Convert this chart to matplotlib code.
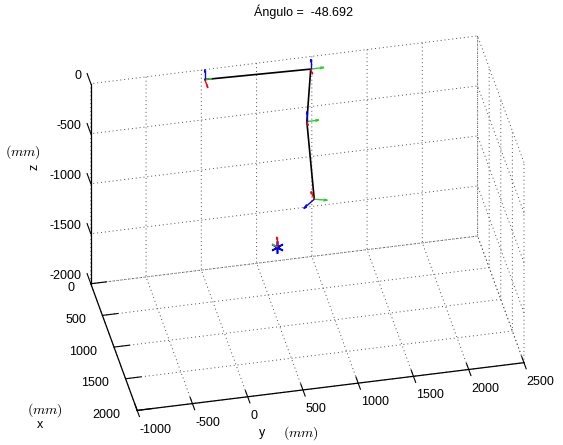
import matplotlib
matplotlib.use('Agg')
import matplotlib.pyplot as plt
import numpy as np

plt.rcParams['font.family'] = ['Liberation Sans', 'DejaVu Sans']
plt.rcParams['mathtext.fontset'] = 'cm'
plt.rcParams['axes.unicode_minus'] = False

# robot joint positions (mm)
joint_x = [150, 190, 190, 190]
joint_y = [0, 950, 915, 982]
joint_z = [0, 0, -520, -1305]

# target point (mm)
target = [190, 644, -1735]

# small coordinate frames at each joint: origin, x (red), y (green), z (blue)
frame_org = [(150, 0, 0), (190, 950, 0), (190, 915, -520), (190, 982, -1305), (190, 644, -1735)]
frame_red = [(130, 0, 0), (80, 0, 0), (60, 0, 0), (0, -30, 80), (0, 0, 100)]
frame_green = [(0, 60, 0), (0, 120, 0), (0, 110, 0), (40, 110, 0), (0, -40, 30)]
frame_blue = [(0, 0, 100), (0, 0, 100), (0, 0, 100), (120, -120, 0), (0, 0, 0)]

angulo = -48.692

x_ticks = [0, 500, 1000, 1500, 2000]
y_ticks = [-1000, -500, 0, 500, 1000, 1500, 2000, 2500]
z_ticks = [-2000, -1500, -1000, -500, 0]

W, H = 563, 445
fig = plt.figure(figsize=(W / 100, H / 100), dpi=100)
ax = fig.add_axes([0.1, 0.1, 0.8, 0.8], projection='3d', proj_type='ortho')

ax.plot(joint_x, joint_y, joint_z, color='black', lw=1.2)
org = np.array(frame_org)
for vec, col in [(frame_red, 'red'), (frame_green, 'limegreen'), (frame_blue, 'blue')]:
    v = np.array(vec)
    ax.quiver(org[:, 0], org[:, 1], org[:, 2], v[:, 0], v[:, 1], v[:, 2],
              color=col, lw=1, arrow_length_ratio=0.3)
ax.plot([target[0]], [target[1]], [target[2]], marker=(6, 2, 0), color='blue',
        ms=9, mew=1.2, ls='none')

ax.set_xlim(x_ticks[0], x_ticks[-1], view_margin=0)
ax.set_ylim(y_ticks[0], y_ticks[-1], view_margin=0)
ax.set_zlim(z_ticks[0], z_ticks[-1], view_margin=0)
ax.set_xticks(x_ticks)
ax.set_yticks(y_ticks)
ax.set_zticks(z_ticks)
ax.tick_params(labelsize=9)
ax.tick_params(axis='x', pad=0)
ax.tick_params(axis='y', pad=3)
ax.tick_params(axis='z', pad=-4)

# z axis on the back-left edge; z and y ticks point along x like MATLAB
ax.zaxis.set_ticks_position('lower')
ax.zaxis._get_tickdir = lambda position: 0
ax.yaxis._get_tickdir = lambda position: 0

plt.setp(ax.get_xticklabels(), ha='right', va='bottom')
plt.setp(ax.get_yticklabels(), ha='left', va='center')
plt.setp(ax.get_zticklabels(), ha='right', va='bottom')

ax.set_box_aspect((225, 399, 248))
ax.view_init(elev=35.5, azim=-12)

# (inward, outward) tick lengths per axis
for axis, t_in, t_out in ((ax.xaxis, 0, 0.5), (ax.yaxis, 0.6, 0.6), (ax.zaxis, 0, 1.0)):
    axis.set_pane_color((1, 1, 1, 0))
    axis.pane.set_edgecolor('none')
    axis._axinfo['grid'].update(color='0.3', linewidth=0.7, linestyle=(0, (1, 3)))
    axis._axinfo['tick'].update(inward_factor=t_in, outward_factor=t_out,
                                linewidth={True: 0.8, False: 0.5})
    axis.line.set_color('black')
    axis.line.set_linewidth(0.9)

# place the axes box where it sits in the reference picture
fig.canvas.draw()
corners = np.array([[0, -1000, -2000], [2000, -1000, -2000], [2000, 2500, -2000],
                    [0, -1000, 0], [0, 2500, 0], [2000, 2500, 0]], dtype=float)
goal = np.array([[89.3, 280], [136, 408], [526, 360],
                 [89, 78], [480, 41], [524, 172]])
goal[:, 1] = H - goal[:, 1]
M = ax.get_proj()
h = np.column_stack([corners, np.ones(len(corners))]) @ M.T
pix = ax.transData.transform(h[:, :2] / h[:, 3:4])
bb = ax.get_position().transformed(fig.transFigure)
u = (pix - [bb.x0, bb.y0]) / bb.width
um, gm = u.mean(0), goal.mean(0)
S = ((u - um) * (goal - gm)).sum() / ((u - um) ** 2).sum()
L, B = gm - S * um
ax.set_position([L / W, B / H, S / W, S / H])

fig.text(303 / W, 1 - 12 / H, 'Ángulo =  %.3f' % angulo, ha='center', va='center', fontsize=9)
fig.text(262 / W, 1 - 433 / H, 'y', ha='center', va='center', fontsize=9)
fig.text(301 / W, 1 - 433 / H, '$(mm)$', ha='center', va='center', fontsize=10)
fig.text(40 / W, 1 - 425 / H, 'x', ha='center', va='center', fontsize=9)
fig.text(45 / W, 1 - 410 / H, '$(mm)$', ha='center', va='center', fontsize=10)
fig.text(23 / W, 1 - 152 / H, '$(mm)$', ha='center', va='center', fontsize=10)
fig.text(35 / W, 1 - 167 / H, 'z', ha='center', va='center', fontsize=9, rotation=90)

fig.savefig('out.png', dpi=100)
